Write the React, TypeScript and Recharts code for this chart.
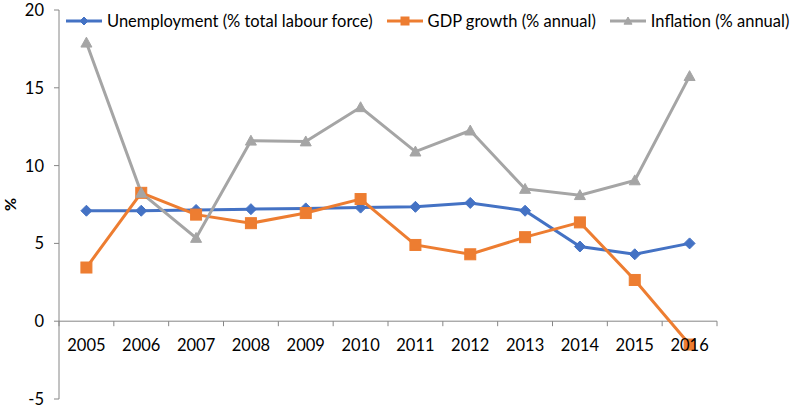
import React from 'react';
import { LineChart, Line, XAxis, YAxis, ReferenceLine, Legend } from 'recharts';

const years = ['2005','2006','2007','2008','2009','2010','2011','2012','2013','2014','2015','2016'];
const unemployment = [7.1, 7.1, 7.15, 7.2, 7.25, 7.3, 7.35, 7.6, 7.1, 4.8, 4.3, 5.0];
const gdpGrowth = [3.45, 8.25, 6.85, 6.3, 6.95, 7.85, 4.9, 4.3, 5.4, 6.35, 2.65, -1.5];
const inflation = [17.9, 8.25, 5.35, 11.6, 11.55, 13.75, 10.9, 12.25, 8.5, 8.1, 9.05, 15.75];
const yTicks = [-5, 0, 5, 10, 15, 20];

const SERIES = [
  { key: 'unemployment', name: 'Unemployment (% total labour force)', color: '#4472C4', shape: 'diamond' },
  { key: 'gdp', name: 'GDP growth (% annual)', color: '#ED7D31', shape: 'square' },
  { key: 'inflation', name: 'Inflation (% annual)', color: '#A5A5A5', shape: 'triangle' },
];

const data = years.map((y, i) => ({
  year: y,
  unemployment: unemployment[i],
  gdp: gdpGrowth[i],
  inflation: inflation[i],
}));

const W = 797;
const H = 410;
const TOP = 10;
const BOTTOM_GAP = 11;
const LEFT = 59;
const RIGHT = 80;
const Y_MIN = -5;
const Y_MAX = 20;
const PLOT_H = H - TOP - BOTTOM_GAP;
const PLOT_W = W - LEFT - RIGHT;
const BAND = PLOT_W / years.length;
const ZERO_Y = TOP + (PLOT_H * (Y_MAX - 0)) / (Y_MAX - Y_MIN);
const AXIS = '#868686';
const FONT = 'Lato, "Open Sans", sans-serif';

function Marker({ cx, cy, shape, color, s = 5 }: any) {
  if (cx == null || cy == null) return null;
  if (shape === 'diamond') {
    return <polygon points={`${cx},${cy - s} ${cx + s},${cy} ${cx},${cy + s} ${cx - s},${cy}`} fill={color} stroke={color} />;
  }
  if (shape === 'square') {
    return <rect x={cx - s} y={cy - s} width={2 * s} height={2 * s} fill={color} stroke={color} />;
  }
  return <polygon points={`${cx},${cy - s} ${cx + s},${cy + s * 0.8} ${cx - s},${cy + s * 0.8}`} fill={color} stroke={color} />;
}

function XTick(props: any) {
  const { x, payload, index } = props;
  const last = index === years.length - 1;
  return (
    <g>
      <line x1={x - BAND / 2} x2={x - BAND / 2} y1={ZERO_Y} y2={ZERO_Y + 5} stroke={AXIS} />
      {last && <line x1={x + BAND / 2} x2={x + BAND / 2} y1={ZERO_Y} y2={ZERO_Y + 5} stroke={AXIS} />}
      <text x={x} y={ZERO_Y + 30} textAnchor="middle" fill="#000" fontSize={16.5} fontFamily={FONT}>
        {payload.value}
      </text>
    </g>
  );
}

function YTick(props: any) {
  const { x, y, payload } = props;
  return (
    <text x={x} y={y + 6} textAnchor="end" fill="#000" fontSize={16.5} fontFamily={FONT}>
      {payload.value}
    </text>
  );
}

function YLabel() {
  return (
    <text transform={`translate(12, ${TOP + PLOT_H / 2}) rotate(-90)`} textAnchor="middle" dominantBaseline="middle" fontWeight="bold" fontSize={16} fontFamily={FONT} fill="#000">
      %
    </text>
  );
}

function LegendContent() {
  return (
    <div style={{ display: 'flex', alignItems: 'center', fontFamily: FONT, fontSize: 16.5, color: '#000', whiteSpace: 'nowrap' }}>
      {SERIES.map((s, i) => (
        <div key={s.key} style={{ display: 'flex', alignItems: 'center', marginRight: i < SERIES.length - 1 ? 14 : 0 }}>
          <svg width={36} height={14} style={{ marginRight: 5 }}>
            <line x1={0} x2={36} y1={7} y2={7} stroke={s.color} strokeWidth={3} />
            <Marker cx={18} cy={7} shape={s.shape} color={s.color} s={4} />
          </svg>
          <span>{s.name}</span>
        </div>
      ))}
    </div>
  );
}

export default function App() {
  return (
    <div style={{ position: 'absolute', left: 0, top: 0, width: W, height: H, background: '#fff' }}>
      <LineChart width={W} height={H} data={data} margin={{ top: TOP, right: RIGHT, bottom: 0, left: 0 }}>
        <XAxis
          dataKey="year"
          height={BOTTOM_GAP}
          axisLine={false}
          tickLine={false}
          tick={<XTick />}
          interval={0}
          padding={{ left: BAND / 2, right: BAND / 2 }}
        />
        <YAxis
          width={LEFT}
          domain={[Y_MIN, Y_MAX]}
          ticks={yTicks}
          type="number"
          allowDataOverflow
          stroke={AXIS}
          tickSize={5}
          tickMargin={10}
          tick={<YTick />}
          label={<YLabel />}
        />
        <ReferenceLine y={0} stroke={AXIS} strokeWidth={1} />
        <Legend
          layout="vertical"
          verticalAlign="middle"
          align="center"
          content={<LegendContent />}
          wrapperStyle={{ position: 'absolute', top: 11, left: 66, width: 'auto' }}
        />
        {SERIES.map((s) => (
          <Line
            key={s.key}
            dataKey={s.key}
            name={s.name}
            stroke={s.color}
            strokeWidth={3}
            isAnimationActive={false}
            dot={(p: any) => <Marker key={`${s.key}-${p.index}`} cx={p.cx} cy={p.cy} shape={s.shape} color={s.color} s={5.5} />}
            activeDot={false}
          />
        ))}
      </LineChart>
    </div>
  );
}
